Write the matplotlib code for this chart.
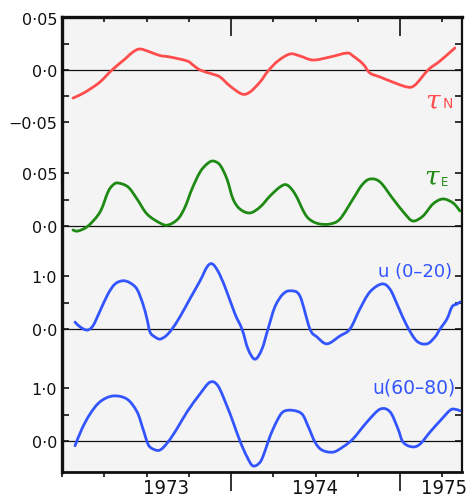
import matplotlib
matplotlib.use("Agg")
import matplotlib.pyplot as plt
from matplotlib import font_manager as fm
from matplotlib.path import Path
from matplotlib.patches import PathPatch
import numpy as np

# ---------------- data (time in fractional years) ----------------
tn_t = [1972.565, 1972.618, 1972.666, 1972.725, 1972.796, 1972.873, 1972.920, 1972.962,
        1973.021, 1973.080, 1973.139, 1973.240, 1973.275, 1973.317, 1973.388, 1973.435,
        1973.494, 1973.565, 1973.612, 1973.672, 1973.719, 1973.778, 1973.849, 1973.908,
        1973.985, 1974.086, 1974.186, 1974.222, 1974.281, 1974.322, 1974.382, 1974.441,
        1974.541, 1974.589, 1974.666, 1974.737, 1974.825]
tn_v = [-0.027, -0.023, -0.0183, -0.0115, 0.0, 0.0106, 0.0173, 0.0202,
        0.0173, 0.0139, 0.0125, 0.0087, 0.0048, 0.0, -0.0038, -0.0067,
        -0.0154, -0.0231, -0.0212, -0.0115, -0.001, 0.0087, 0.0154, 0.0135,
        0.0096, 0.0125, 0.0163, 0.0135, 0.0058, -0.0029, -0.0067, -0.0106,
        -0.0163, -0.0144, 0.0, 0.0087, 0.0212]

te_t = [1972.565, 1972.595, 1972.654, 1972.725, 1972.772, 1972.802, 1972.831, 1972.891,
        1972.944, 1973.003, 1973.080, 1973.127, 1973.186, 1973.228, 1973.269, 1973.317,
        1973.358, 1973.393, 1973.435, 1973.476, 1973.512, 1973.553, 1973.612, 1973.672,
        1973.731, 1973.790, 1973.831, 1973.879, 1973.938, 1973.979, 1974.027, 1974.086,
        1974.145, 1974.222, 1974.275, 1974.322, 1974.382, 1974.459, 1974.530, 1974.577,
        1974.636, 1974.695, 1974.754, 1974.814, 1974.855]
te_v = [-0.0038, -0.0047, 0.0, 0.0132, 0.0321, 0.0387, 0.0406, 0.0368,
        0.0255, 0.0113, 0.0028, 0.0009, 0.0066, 0.0179, 0.0349, 0.0509,
        0.0585, 0.0613, 0.0575, 0.0443, 0.0255, 0.016, 0.0123, 0.0179,
        0.0283, 0.0368, 0.0387, 0.0302, 0.0113, 0.0047, 0.0019, 0.0019,
        0.0066, 0.0255, 0.0387, 0.0443, 0.0415, 0.0255, 0.0113, 0.0047,
        0.0094, 0.0208, 0.0255, 0.0217, 0.0142]

u1_t = [1972.577, 1972.607, 1972.648, 1972.683, 1972.725, 1972.772, 1972.814, 1972.861,
        1972.903, 1972.944, 1972.979, 1973.003, 1973.021, 1973.050, 1973.080, 1973.115,
        1973.151, 1973.198, 1973.257, 1973.317, 1973.358, 1973.388, 1973.423, 1973.465,
        1973.524, 1973.565, 1973.601, 1973.642, 1973.683, 1973.719, 1973.760, 1973.808,
        1973.855, 1973.908, 1973.967, 1974.009, 1974.068, 1974.145, 1974.204, 1974.263,
        1974.322, 1974.393, 1974.441, 1974.488, 1974.541, 1974.600, 1974.660, 1974.707,
        1974.737, 1974.778, 1974.808, 1974.837, 1974.855]
u1_v = [0.13, 0.04, -0.02, 0.06, 0.34, 0.66, 0.85, 0.91,
        0.87, 0.75, 0.47, 0.19, -0.06, -0.15, -0.19, -0.13,
        0.0, 0.23, 0.57, 0.91, 1.17, 1.23, 1.09, 0.79,
        0.28, 0.0, -0.38, -0.57, -0.38, 0.0, 0.42, 0.66,
        0.72, 0.62, 0.0, -0.15, -0.28, -0.13, 0.0, 0.38,
        0.70, 0.85, 0.75, 0.43, 0.06, -0.23, -0.28, -0.15,
        0.0, 0.19, 0.42, 0.47, 0.51]

u2_t = [1972.577, 1972.618, 1972.666, 1972.725, 1972.802, 1972.885, 1972.944, 1972.979,
        1973.009, 1973.038, 1973.080, 1973.127, 1973.180, 1973.240, 1973.317, 1973.376,
        1973.423, 1973.476, 1973.512, 1973.553, 1973.595, 1973.630, 1973.672, 1973.701,
        1973.731, 1973.772, 1973.808, 1973.861, 1973.920, 1973.956, 1973.997, 1974.038,
        1974.104, 1974.163, 1974.222, 1974.305, 1974.382, 1974.441, 1974.488, 1974.518,
        1974.571, 1974.618, 1974.678, 1974.737, 1974.796, 1974.825, 1974.855]
u2_v = [-0.09, 0.23, 0.51, 0.74, 0.85, 0.79, 0.55, 0.23,
        -0.06, -0.15, -0.17, -0.02, 0.23, 0.55, 0.89, 1.11,
        1.04, 0.66, 0.36, 0.0, -0.30, -0.47, -0.40, -0.19,
        0.09, 0.38, 0.55, 0.58, 0.51, 0.28, -0.02, -0.17,
        -0.21, -0.11, 0.04, 0.36, 0.60, 0.55, 0.23, -0.02,
        -0.11, -0.06, 0.17, 0.38, 0.58, 0.60, 0.57]

year_labels = ["1973", "1974", "1975"]
year_label_pos = [1973.115, 1974.0, 1974.76]
quarter_ticks = [1972.5, 1972.75, 1973.0, 1973.25, 1973.75, 1974.0, 1974.25, 1974.75]
midyear_ticks = [1973.5, 1974.5]

# ---------------- figure ----------------
W, H = 467, 502
fig = plt.figure(figsize=(W / 100, H / 100), dpi=100)
L, R, T, B = 62, 462, 18, 473
rect = [L / W, (H - B) / H, (R - L) / W, (B - T) / H]
XLIM = (1972.5, 1972.5 + (R - L) / 169.0)
BG = "#f4f4f4"
INK = "#111111"

fr = fig.add_axes(rect)
fr.set_facecolor(BG)
fr.set_xlim(*XLIM)
fr.set_ylim(0, 1)
fr.set_yticks([])
for s, lw in (("left", 2.4), ("top", 2.4), ("bottom", 2.0), ("right", 1.6)):
    fr.spines[s].set_linewidth(lw)
    fr.spines[s].set_color(INK)
fr.set_xticks(midyear_ticks)
fr.set_xticks(quarter_ticks, minor=True)
fr.set_xticklabels([])
fr.tick_params(axis="x", which="major", direction="out", length=14, width=1.2,
               color=INK, top=False)
fr.tick_params(axis="x", which="minor", direction="out", length=3.6, width=1.2,
               color=INK, top=False)

top = fr.twiny()
top.set_xlim(*XLIM)
top.set_xticks(midyear_ticks)
top.set_xticks(quarter_ticks, minor=True)
top.set_xticklabels([])
for s in top.spines.values():
    s.set_visible(False)
top.tick_params(axis="x", which="major", direction="in", length=14, width=1.2, color=INK)
top.tick_params(axis="x", which="minor", direction="in", length=3.6, width=1.2, color=INK)

# year labels
names = {f.name for f in fm.fontManager.ttflist}
if "Liberation Sans Narrow" in names:
    yfont = dict(family="Liberation Sans Narrow", size=17)
elif any(f.name == "DejaVu Sans" and f.stretch == "condensed" for f in fm.fontManager.ttflist):
    yfont = dict(family="DejaVu Sans", stretch="condensed", size=14.5)
else:
    yfont = dict(family="DejaVu Sans", size=13.5)
for lab, xp in zip(year_labels, year_label_pos):
    fr.text(xp, -(488.5 - B) / (B - T), lab, ha="center", va="center",
            transform=fr.get_xaxis_transform(), color=INK, **yfont)


def smooth_curve(ax, t, v, color):
    """Draw the read points joined by a smooth (Catmull-Rom style) Bezier path."""
    p = np.column_stack([t, v]).astype(float)
    n = len(p)
    verts = [p[0]]
    codes = [Path.MOVETO]
    for i in range(n - 1):
        p0 = p[i - 1] if i > 0 else p[i]
        p1, p2 = p[i], p[i + 1]
        p3 = p[i + 2] if i + 2 < n else p[i + 1]
        c1 = p1 + (p2 - p0) / 6.0
        c2 = p2 - (p3 - p1) / 6.0
        verts += [c1, c2, p2]
        codes += [Path.CURVE4] * 3
    patch = PathPatch(Path(verts, codes), fill=False, edgecolor=color, lw=2.0,
                      capstyle="round", joinstyle="round", transform=ax.transData,
                      zorder=3)
    ax.add_patch(patch)


# ---------------- panels ----------------
def panel(y0, spp, t, v, color, ticks_major, labels, ticks_minor):
    ax = fig.add_axes(rect, facecolor="none")
    ax.set_xlim(*XLIM)
    ax.set_ylim(-(B - y0) / spp, (y0 - T) / spp)
    for s in ax.spines.values():
        s.set_visible(False)
    ax.tick_params(axis="x", which="both", bottom=False, top=False, labelbottom=False)
    ax.set_yticks(ticks_major)
    ax.set_yticklabels(labels)
    ax.set_yticks(ticks_minor, minor=True)
    ax.tick_params(axis="y", which="both", direction="in", left=True, right=True,
                   length=5, width=1.2, color=INK, labelsize=11.5,
                   pad=3.5, labelcolor=INK)
    ax.axhline(0, color=INK, lw=0.9, zorder=1)
    smooth_curve(ax, t, v, color)
    return ax


RED, GREEN, BLUE = "#ff4d4d", "#1e8a14", "#3355ff"
panel(71, 52 / 0.05, tn_t, tn_v, RED,
      [-0.05, 0.0, 0.05], ["\u22120\u00b705", "0\u00b70", "0\u00b705"], [-0.025, 0.025])
panel(227, 53 / 0.05, te_t, te_v, GREEN,
      [0.0, 0.05], ["0\u00b70", "0\u00b705"], [0.025])
panel(330, 53.0, u1_t, u1_v, BLUE,
      [0.0, 1.0], ["0\u00b70", "1\u00b70"], [0.5])
panel(442, 53.0, u2_t, u2_v, BLUE,
      [0.0, 1.0], ["0\u00b70", "1\u00b70"], [0.5])


# series labels
def ftext(x, y, s, **kw):
    fig.text(x / W, 1 - y / H, s, **kw)


ftext(433, 101, "\u03c4", color=RED, fontsize=19, style="italic",
      family="DejaVu Serif", ha="center", va="center")
ftext(447.5, 103.5, "N", color=RED, fontsize=10, ha="center", va="center")
ftext(432, 177.5, "\u03c4", color=GREEN, fontsize=19, style="italic",
      family="DejaVu Serif", ha="center", va="center")
ftext(445, 182, "E", color=GREEN, fontsize=8.5, ha="center", va="center")
ftext(378, 272.5, "u (0\u201320)", color=BLUE, fontsize=13, ha="left", va="center")
ftext(372, 388.5, "u(60\u201380)", color=BLUE, fontsize=13.5, ha="left", va="center")

fig.savefig("out.png", dpi=100, facecolor="white")
